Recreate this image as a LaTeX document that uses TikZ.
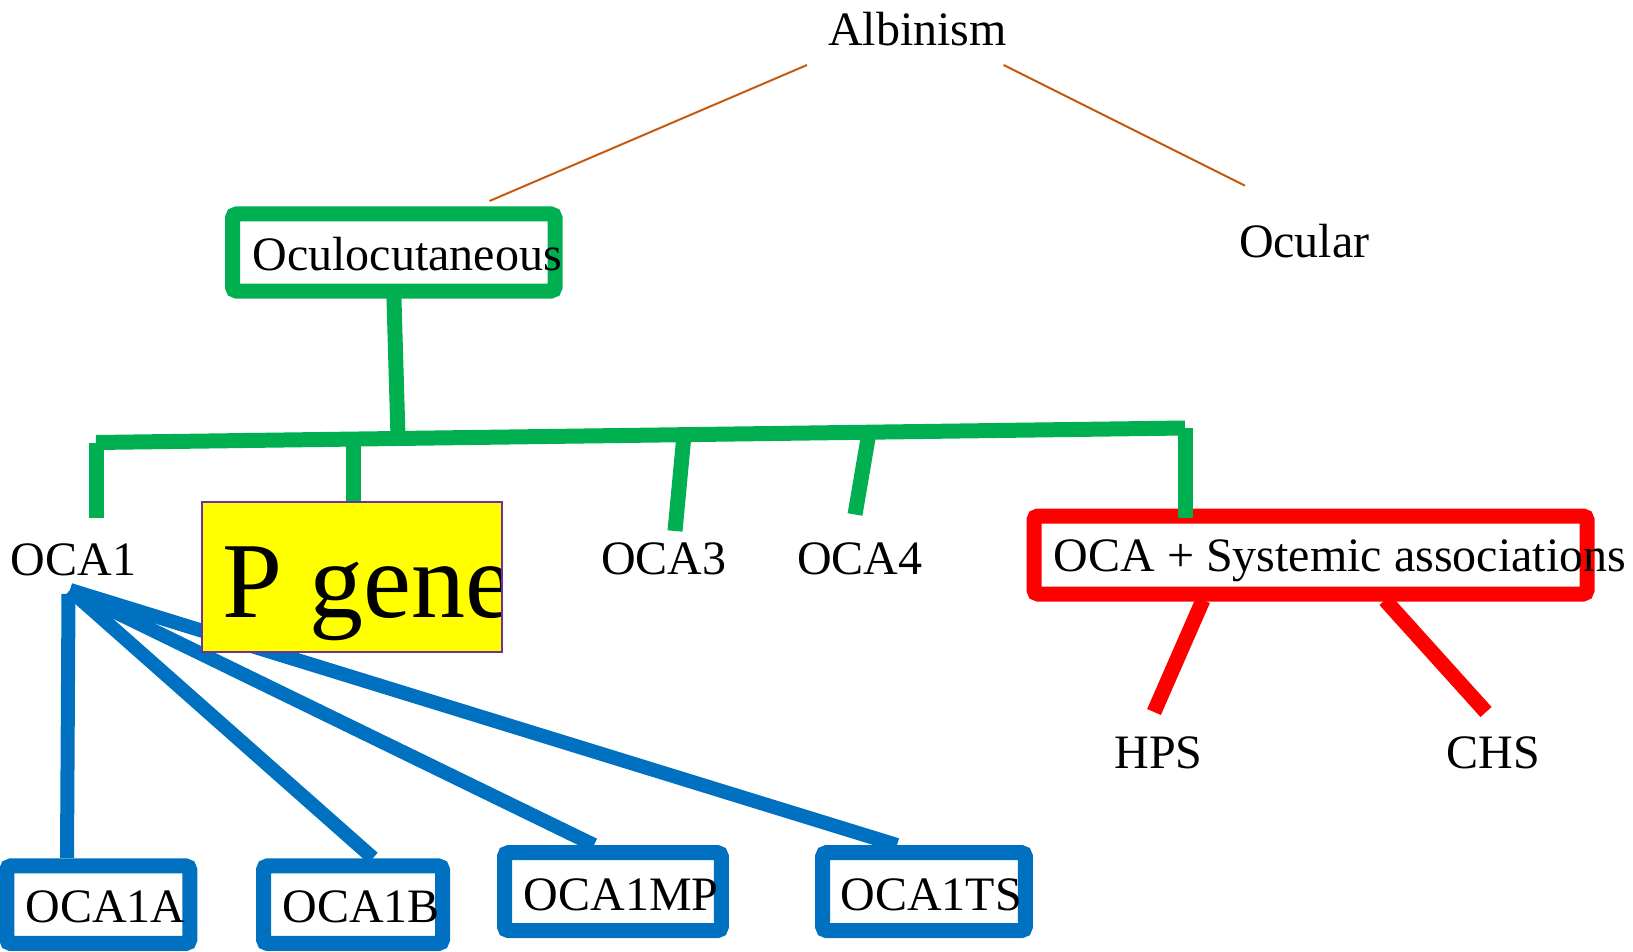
\documentclass[tikz,border=0pt]{standalone}
\usepackage{fontspec}
\setmainfont{Liberation Serif}
\definecolor{ogreen}{HTML}{00B050}
\definecolor{oblue}{HTML}{0070C0}
\definecolor{ored}{HTML}{FF0000}
\definecolor{oorange}{HTML}{C55A11}
\definecolor{opurple}{HTML}{7030A0}
\definecolor{oyellow}{HTML}{FFFF00}
\begin{document}
\begin{tikzpicture}[x=1pt,y=-1pt,
  lbl/.style={anchor=base west, inner sep=0pt, outer sep=0pt, font=\fontsize{48}{58}\selectfont},
  framebox/.style={draw=#1, line width=15pt, rounded corners=4pt, inner sep=0pt, outer sep=0pt, rectangle},
  thinlink/.style={draw=oorange, line width=2pt},
  glink/.style={draw=ogreen, line width=15pt},
  rlink/.style={draw=ored, line width=15pt},
  blink/.style={draw=oblue, line width=14pt}
]
\useasboundingbox (0,0) rectangle (1633,952);

% Top level
\node[lbl] (alb) at (828,46) {Albinism};
\node[lbl] (ocu) at (1239,258) {Ocular};
\coordinate (a1) at (807,65);
\coordinate (a2) at (489.5,201);
\coordinate (a3) at (1003.6,65);
\coordinate (a4) at (1245,185.7);
\draw[thinlink] (a1) -- (a2);
\draw[thinlink] (a3) -- (a4);

% Oculocutaneous
\node[framebox=ogreen, minimum width=322.5pt, minimum height=77pt] (ocbox) at (393.75,252.5) {};
\node[lbl] (octext) at (252.6,270) {Oculocutaneous};

% green tree
\coordinate (bj) at (398,437);
\coordinate (bl) at (96,442.5);
\coordinate (br) at (1185,428);
\coordinate (t1) at (96,518);
\coordinate (t2a) at (353,440);
\coordinate (t2b) at (353,503);
\coordinate (t3a) at (684,435);
\coordinate (t3b) at (675,531);
\coordinate (t4a) at (869.1,432);
\coordinate (t4b) at (855,514.5);
\coordinate (t5) at (1185,518);
\draw[glink] (ocbox.south) -- (bj);
\draw[glink] (bl) -- (br);
\draw[glink] (bl) -- (t1);
\draw[glink] (t2a) -- (t2b);
\draw[glink] (t3a) -- (t3b);
\draw[glink] (t4a) -- (t4b);

% second level labels
\node[lbl] (oca1) at (10.7,575) {OCA1};
\node[lbl] (oca3) at (601,574) {OCA3};
\node[lbl] (oca4) at (797,574) {OCA4};

% blue fan
\coordinate (apex) at (70,590);
\coordinate (apexv) at (68.5,594);
\coordinate (e1) at (67,858);
\coordinate (e2) at (373,858);
\coordinate (e3) at (594,845);
\coordinate (e4) at (897,845);
\draw[blink] (apexv) -- (e1);
\draw[blink] (apex) -- (e2);
\draw[blink] (apex) -- (e3);
\draw[blink] (apex) -- (e4);

% P gene
\node[draw=opurple, fill=oyellow, line width=1.5pt, inner sep=0pt, minimum width=299.3pt, minimum height=149pt] (pgene) at (351.65,577.2) {};
\begin{scope}
\clip (pgene.north west) rectangle (pgene.south east);
\node[anchor=base west, inner sep=0pt, font=\fontsize{108}{120}\selectfont] (pgenetext) at (222,617) {P gene};
\end{scope}
\draw[draw=opurple, line width=1.5pt] (pgene.north west) rectangle (pgene.south east);

% blue boxes
\node[framebox=oblue, minimum width=183pt, minimum height=77.5pt] (b1) at (98.3,904.7) {};
\node[framebox=oblue, minimum width=179pt, minimum height=77.5pt] (b2) at (353,904.7) {};
\node[framebox=oblue, minimum width=216.8pt, minimum height=78pt] (b3) at (612.9,891.6) {};
\node[framebox=oblue, minimum width=202.7pt, minimum height=78pt] (b4) at (924,891.6) {};
\node[lbl] (oca1a) at (25.4,922.5) {OCA1A};
\node[lbl] (oca1b) at (282.6,922.5) {OCA1B};
\node[lbl] (oca1mp) at (523.7,910) {OCA1MP};
\node[lbl] (oca1ts) at (840.6,910) {OCA1TS};

% red part
\node[framebox=ored, minimum width=553pt, minimum height=78pt] (sysbox) at (1310.5,555) {};
\draw[glink] (br) -- (t5);
\node[lbl] (systext) at (1053.7,571.7) {OCA + Systemic associations};
\coordinate (r1a) at (1203,600);
\coordinate (r1b) at (1154,712);
\coordinate (r2a) at (1385,600);
\coordinate (r2b) at (1486,712);
\draw[rlink] (r1a) -- (r1b);
\draw[rlink] (r2a) -- (r2b);
\node[lbl] (hps) at (1114.6,768) {HPS};
\node[lbl] (chs) at (1446.5,768) {CHS};
\end{tikzpicture}
\end{document}
